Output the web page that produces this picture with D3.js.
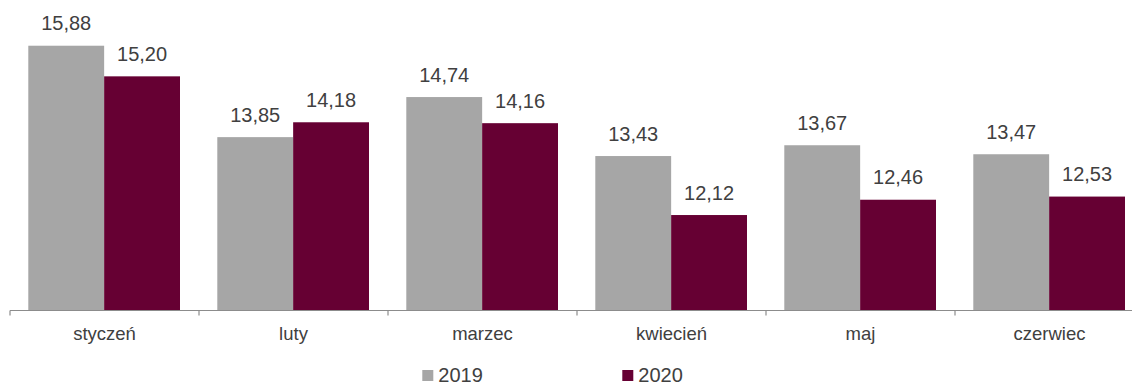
<!DOCTYPE html>
<html>
<head>
<meta charset="utf-8">
<script src="https://cdn.jsdelivr.net/npm/d3@7"></script>
<style>
  html, body { margin: 0; padding: 0; background: #fff; }
  svg { display: block; font-family: "Liberation Sans", Arial, sans-serif; }
</style>
</head>
<body>
<svg id="chart" width="1132" height="382"></svg>
<script>
// Monthly values, January–June, for two years
const categories = ["styczeń", "luty", "marzec", "kwiecień", "maj", "czerwiec"];
const seriesNames = ["2019", "2020"];
const values2019 = [15.88, 13.85, 14.74, 13.43, 13.67, 13.47];
const values2020 = [15.20, 14.18, 14.16, 12.12, 12.46, 12.53];
const seriesColors = ["#A6A6A6", "#660033"];

const seriesValues = [values2019, values2020];
const rows = categories.map((c, i) => ({
  cat: c,
  vals: seriesNames.map((s, k) => ({ series: s, k, value: seriesValues[k][i] }))
}));

const svg = d3.select("#chart");
const textColor = "#404040";
const fmt = v => d3.format(".2f")(v).replace(".", ",");

const baseY = 310.5;
const x = d3.scaleBand().domain(categories).range([10, 1144]).padding(0);
const xInner = d3.scaleBand().domain(seriesNames).range([18.3, 170]).padding(0);
const y = d3.scaleLinear().domain([10, 16]).range([baseY, baseY - 6 * 45.03]);

// Bars
const groups = svg.append("g").selectAll("g")
  .data(rows).join("g")
  .attr("transform", d => `translate(${x(d.cat)},0)`);

groups.selectAll("rect")
  .data(d => d.vals).join("rect")
  .attr("x", d => xInner(d.series))
  .attr("width", xInner.bandwidth())
  .attr("y", d => y(d.value))
  .attr("height", d => baseY - y(d.value))
  .attr("fill", d => seriesColors[d.k]);

// Value labels
groups.selectAll("text")
  .data(d => d.vals).join("text")
  .attr("x", d => xInner(d.series) + xInner.bandwidth() / 2)
  .attr("y", d => y(d.value) - 15.5)
  .attr("text-anchor", "middle")
  .attr("font-size", 20)
  .attr("fill", textColor)
  .text(d => fmt(d.value));

// Category axis
const axis = svg.append("g");
axis.append("line")
  .attr("x1", x.range()[0]).attr("x2", 1132)
  .attr("y1", baseY).attr("y2", baseY)
  .attr("stroke", "#8C8C8C").attr("stroke-width", 1.2);
axis.selectAll("line.tick")
  .data(categories).join("line")
  .attr("class", "tick")
  .attr("x1", d => x(d)).attr("x2", d => x(d))
  .attr("y1", baseY).attr("y2", baseY + 5)
  .attr("stroke", "#8C8C8C").attr("stroke-width", 1.2);
axis.selectAll("text")
  .data(categories).join("text")
  .attr("x", d => x(d) + x.bandwidth() / 2)
  .attr("y", 339.5)
  .attr("text-anchor", "middle")
  .attr("font-size", 18.5)
  .attr("fill", textColor)
  .text(d => d);

// Legend
const legendX = [422.3, 622.3];
const legend = svg.append("g").selectAll("g")
  .data(seriesNames).join("g")
  .attr("transform", (d, i) => `translate(${legendX[i]},0)`);
legend.append("rect")
  .attr("x", 0).attr("y", 370)
  .attr("width", 11).attr("height", 11)
  .attr("fill", (d, i) => seriesColors[i]);
legend.append("text")
  .attr("x", 16).attr("y", 381.5)
  .attr("font-size", 20)
  .attr("fill", textColor)
  .text(d => d);
</script>
</body>
</html>
